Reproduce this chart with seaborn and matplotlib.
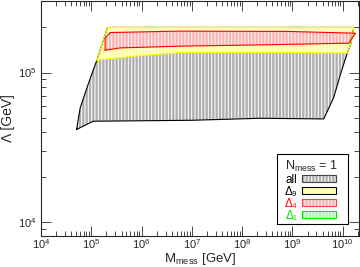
import numpy as np
import pandas as pd
import matplotlib
matplotlib.use("Agg")
import matplotlib.pyplot as plt
import seaborn as sns
from matplotlib.patches import Patch, Rectangle

# region outlines (M_mess [GeV], Lambda [GeV])
all_m = [5.1e4, 6.0e4, 8.6e4, 1.29e5, 2.1e5, 1.0e6, 1.0e8, 1.66e10, 1.43e10, 1.23e10,
         9.0e9, 6.6e9, 4.2e9, 2.3e8, 1.0e7, 1.09e5]
all_l = [4.17e4, 5.8e4, 8.3e4, 1.21e5, 2.0e5, 2.0e5, 2.0e5, 2.0e5, 1.53e5, 1.35e5,
         9.7e4, 6.8e4, 4.9e4, 4.95e4, 4.8e4, 4.73e4]

d9_m = [1.29e5, 2.1e5, 1.0e6, 1.0e8, 1.66e10, 1.43e10, 1.23e10, 3.6e8, 5.9e6, 5.9e5]
d9_l = [1.21e5, 2.0e5, 2.0e5, 2.0e5, 2.0e5, 1.53e5, 1.35e5, 1.36e5, 1.36e5, 1.28e5]

d4_m = [1.88e5, 1.88e5, 2.37e5, 5.9e6, 9.1e8, 1.8e10, 1.32e10, 2.3e8, 5.9e6, 3.75e5]
d4_l = [1.41e5, 1.70e5, 1.85e5, 1.89e5, 1.88e5, 1.83e5, 1.57e5, 1.53e5, 1.50e5, 1.46e5]

labels = ["all", "Δ₉", "Δ₄", "Δ₁"]
fills = ["#b0b0b0", "#ffff99", "#ffb0b0", "#a0ffa0"]
edges = ["black", "#ffff00", "red", "#00e000"]
legend_edges = ["#444444", "black", "#ff4040", "#00e000"]
text_colors = ["black", "black", "red", "#00dd00"]

sns.set_style("ticks")
plt.rcParams["font.family"] = ["Liberation Sans", "DejaVu Sans"]
plt.rcParams["mathtext.fontset"] = "custom"
plt.rcParams["mathtext.rm"] = "Liberation Sans"
plt.rcParams["hatch.linewidth"] = 0.7

fig = plt.figure(figsize=(3.6, 2.67), dpi=100)
ax = fig.add_axes([0.114, 0.116, 0.883, 0.88])

regions = [(all_m, all_l), (d9_m, d9_l), (d4_m, d4_l)]
for i, (m, l) in enumerate(regions):
    ax.fill(m, l, facecolor=fills[i], edgecolor="white", hatch="|||||", linewidth=0)
    df = pd.DataFrame({"m": m + [m[0]], "l": l + [l[0]]})
    sns.lineplot(data=df, x="m", y="l", sort=False, estimator=None, ax=ax,
                 color=edges[i], linewidth=0.8)

ax.set_xscale("log")
ax.set_yscale("log")
ax.set_xlim(1e4, 2.1e10)
ax.set_ylim(8.1e3, 3.0e5)
ax.set_xticks([1e4, 1e5, 1e6, 1e7, 1e8, 1e9, 1e10])
ax.set_yticks([1e4, 1e5])
ax.tick_params(which="both", direction="in", top=True, right=True, labelsize=8, width=0.6)
ax.tick_params(which="major", length=7)
ax.tick_params(which="minor", length=3.5)
ax.tick_params(axis="x", which="both", pad=1)
for s in ax.spines.values():
    s.set_linewidth(0.8)
ax.set_xlabel(r"$\mathdefault{M_{mess}}$ [GeV]", fontsize=9.5, labelpad=-0.5)
ax.set_ylabel("Λ [GeV]", fontsize=10, labelpad=2)

# legend frame drawn by hand so its size matches the original box
ax.add_patch(Rectangle((0.742, 0.051), 0.223, 0.296, transform=ax.transAxes,
                       facecolor="white", edgecolor="black", linewidth=0.8, zorder=4))
handles = []
for i in range(4):
    handles.append((Patch(facecolor=fills[i], edgecolor="white", hatch="|||||", linewidth=0),
                    Patch(facecolor="none", edgecolor=legend_edges[i], linewidth=0.8)))
leg = ax.legend(handles, labels, title=r"$\mathdefault{N_{mess}}$ = 1", loc="upper left",
                bbox_to_anchor=(0.767, 0.33), markerfirst=False, fontsize=8.5,
                title_fontsize=9, frameon=False, handlelength=2.9, handleheight=0.5,
                labelspacing=0.0, borderpad=0, handletextpad=0.35, borderaxespad=0)
leg.set_zorder(5)
leg._legend_box.align = "left"
leg._legend_box.sep = 0
for t, c in zip(leg.get_texts(), text_colors):
    t.set_color(c)

fig.savefig("out.png", dpi=100)
